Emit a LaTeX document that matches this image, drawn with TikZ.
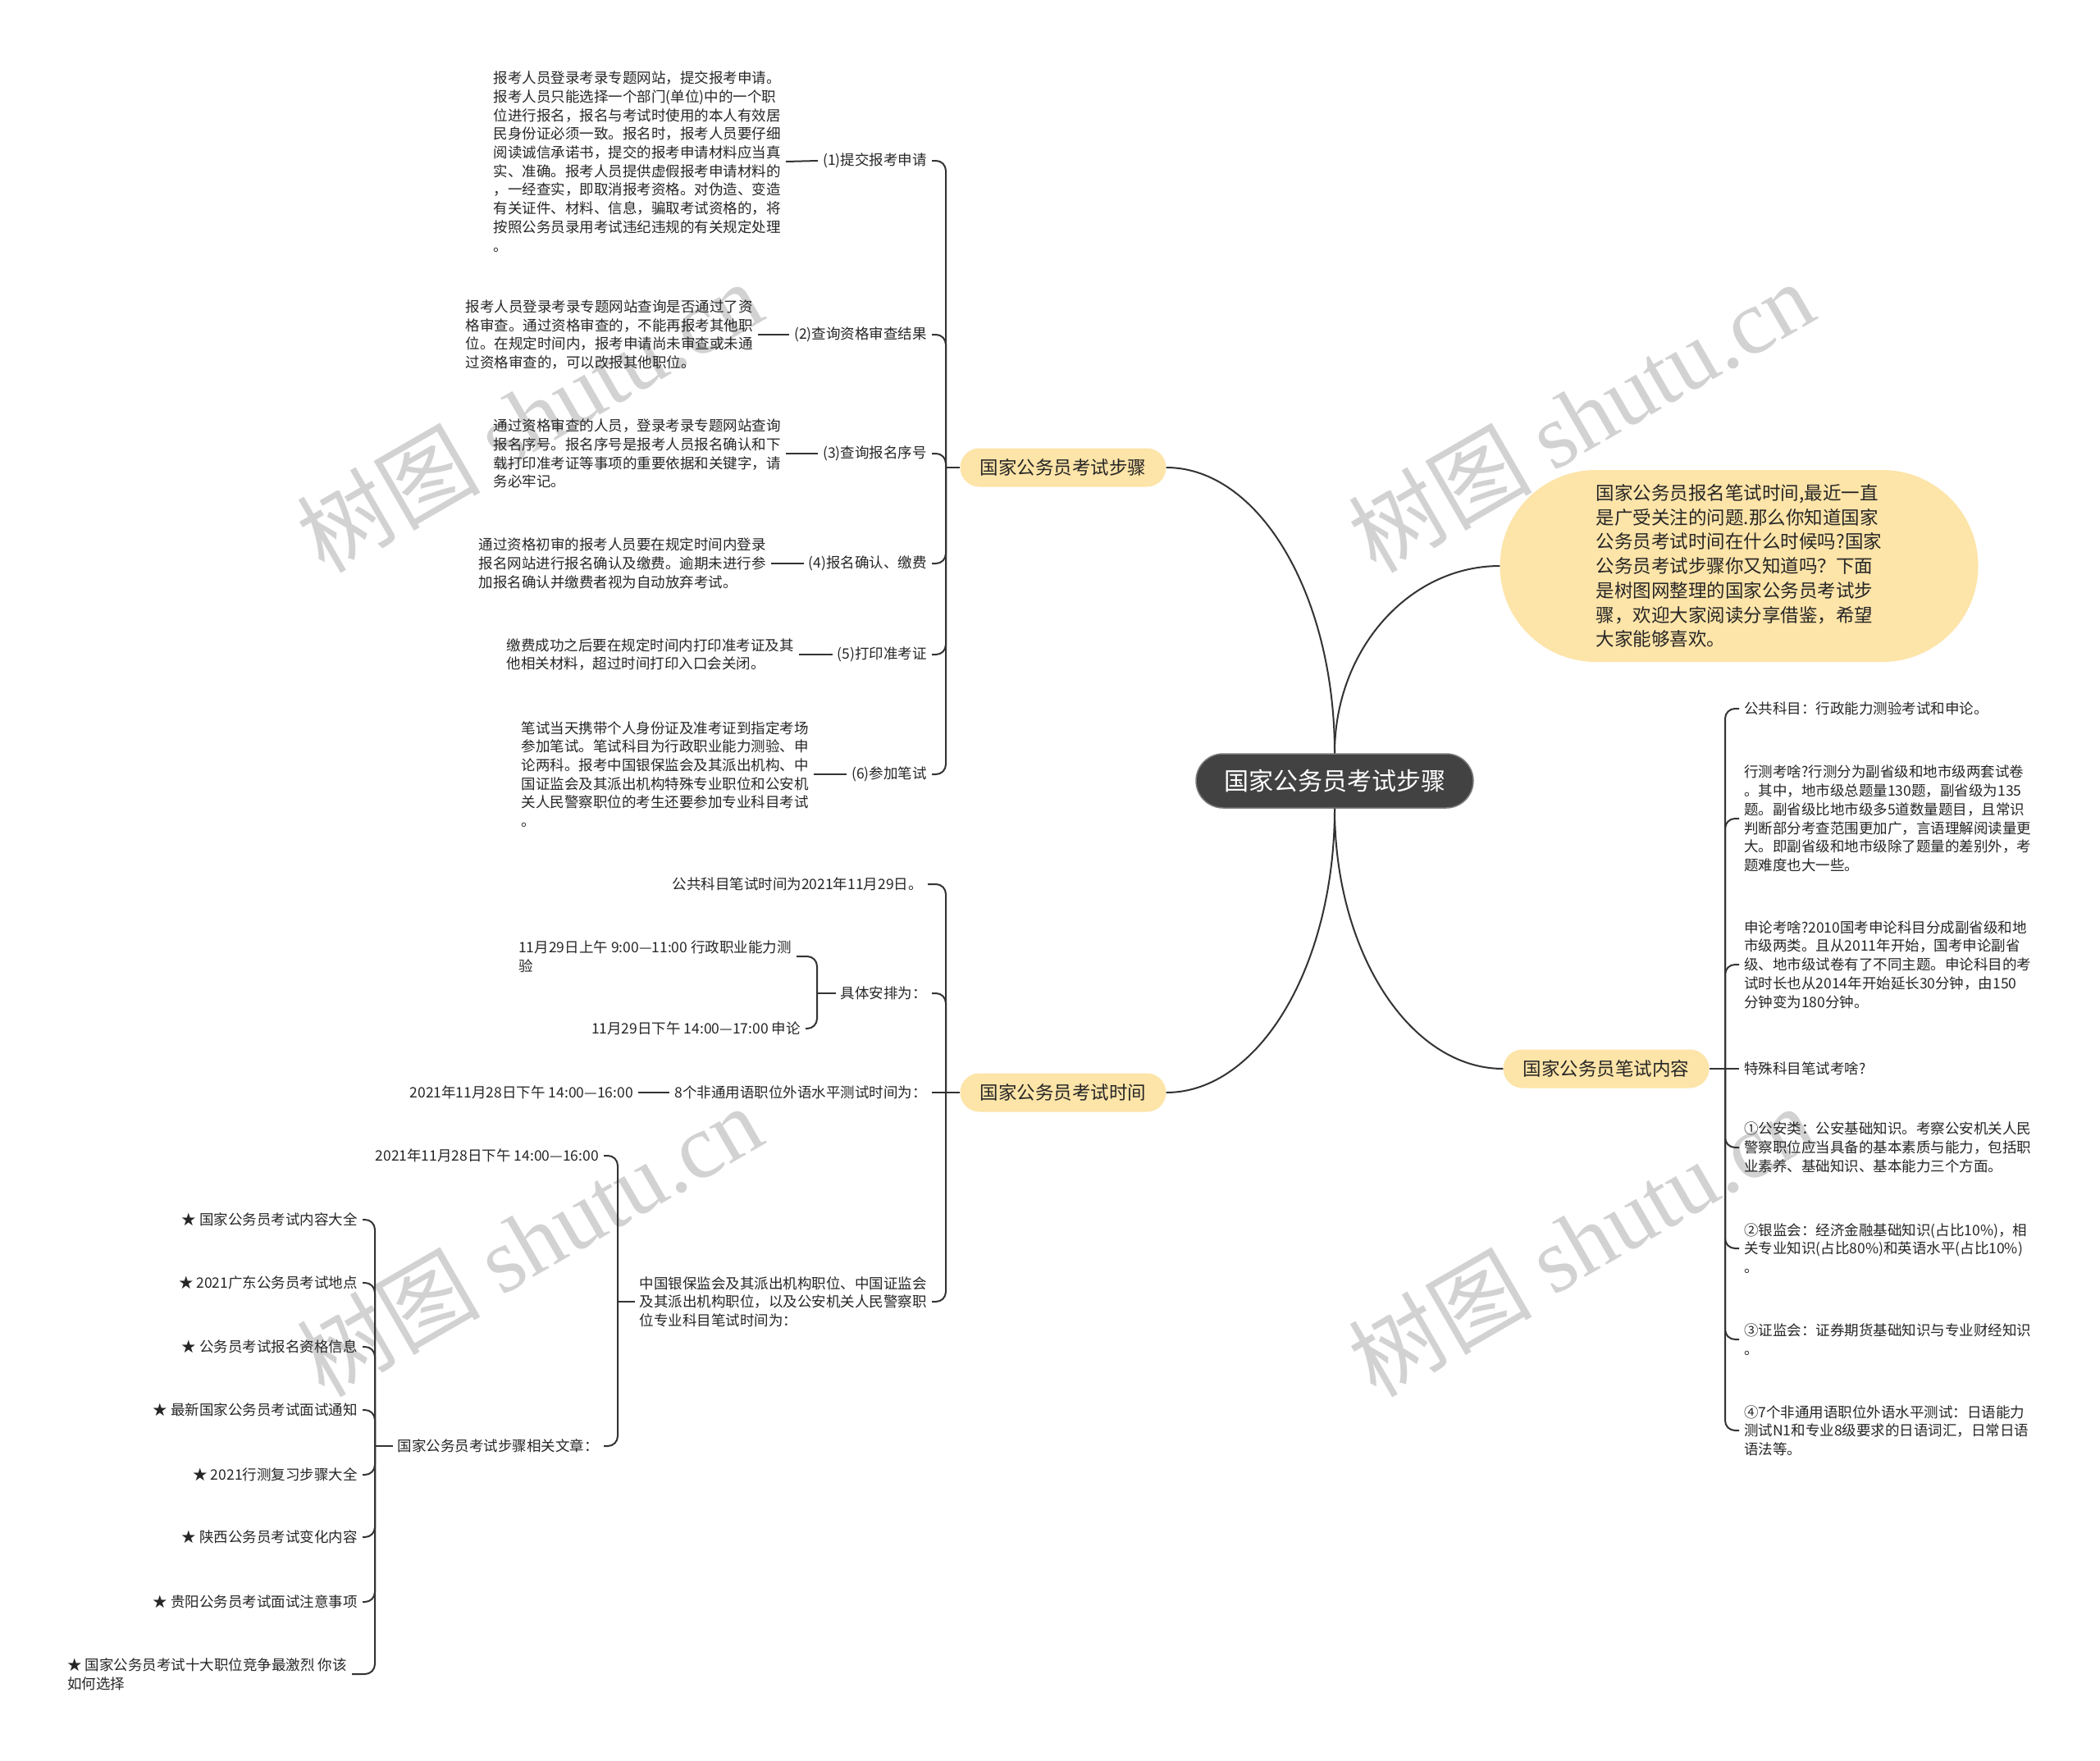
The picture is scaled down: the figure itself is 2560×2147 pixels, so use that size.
\documentclass[tikz,border=0pt]{standalone}
\usepackage{fontspec}
\setmainfont{Noto Sans CJK SC}
\newfontfamily\wmserif{Liberation Serif}
\definecolor{topicfill}{RGB}{253,228,168}
\definecolor{rootfill}{RGB}{66,66,66}
\definecolor{linkgray}{RGB}{51,51,51}
\definecolor{inkgray}{RGB}{38,38,38}
\definecolor{markgray}{RGB}{210,210,210}
\tikzset{
  link/.style={draw=linkgray, line width=2pt},
  brace/.style={link, rounded corners=12pt},
  note/.style={font=\fontsize{17.5}{22.7}\selectfont, text=inkgray, align=left, inner sep=6pt},
  topic/.style={fill=topicfill, rounded corners=23.5pt, minimum width=251pt, minimum height=47pt,
    font=\fontsize{22.5}{28}\selectfont, text=inkgray},
  rootbox/.style={fill=rootfill, draw=rootfill!70!white, line width=1.5pt, rounded corners=33pt,
    minimum width=338pt, minimum height=66pt, font=\fontsize{30}{36}\selectfont, text=white},
  intro/.style={fill=topicfill, rounded corners=117pt, minimum width=583pt, minimum height=234pt,
    font=\fontsize{22.5}{29.7}\selectfont, text=inkgray, align=left},
  wmark/.style={text=markgray, font=\fontsize{112}{116}\selectfont, rotate=30}
}
\begin{document}
\begin{tikzpicture}[x=1pt,y=1pt]
  %canvas
  \useasboundingbox (0,0) rectangle (2560,-2147);
  \fill[white] (0,0) rectangle (2560,-2147);
  %watermarks
  \node[wmark] (wm1) at (645,-507) {树图 {\wmserif shutu.cn}};
  \node[wmark] (wm2) at (1927,-507) {树图 {\wmserif shutu.cn}};
  \node[wmark] (wm3) at (645,-1512) {树图 {\wmserif shutu.cn}};
  \node[wmark] (wm4) at (1927,-1512) {树图 {\wmserif shutu.cn}};
  %root and main topics
  \node[rootbox] (root) at (1627,-952) {国家公务员考试步骤};
  \node[intro] (intro) at (2120,-690) {国家公务员报名笔试时间,最近一直\\是广受关注的问题.那么你知道国家\\公务员考试时间在什么时候吗?国家\\公务员考试步骤你又知道吗？下面\\是树图网整理的国家公务员考试步\\骤，欢迎大家阅读分享借鉴，希望\\大家能够喜欢。};
  \node[topic] (steps) at (1296,-570) {国家公务员考试步骤};
  \node[topic] (times) at (1296,-1332) {国家公务员考试时间};
  \node[topic] (content) at (1958,-1303) {国家公务员笔试内容};
  \draw[link] (root.north) .. controls +(0,126) and +(-111,0) .. (intro.west);
  \draw[link] (root.north) .. controls +(0,193) and +(113,0) .. (steps.east);
  \draw[link] (root.south) .. controls +(0,-192) and +(113,0) .. (times.east);
  \draw[link] (root.south) .. controls +(0,-176) and +(-113,0) .. (content.west);
  %steps branch
  \coordinate (jsteps) at (1153,-570);
  \node[note, anchor=east] (st1) at (1136,-196) {(1)提交报考申请};
  \node[note, anchor=east] (st2) at (1136,-408) {(2)查询资格审查结果};
  \node[note, anchor=east] (st3) at (1136,-553) {(3)查询报名序号};
  \node[note, anchor=east] (st4) at (1136,-687) {(4)报名确认、缴费};
  \node[note, anchor=east] (st5) at (1136,-798) {(5)打印准考证};
  \node[note, anchor=east] (st6) at (1136,-944) {(6)参加笔试};
  \node[note, anchor=east] (sd1) at (958,-197) {报考人员登录考录专题网站，提交报考申请。\\报考人员只能选择一个部门(单位)中的一个职\\位进行报名，报名与考试时使用的本人有效居\\民身份证必须一致。报名时，报考人员要仔细\\阅读诚信承诺书，提交的报考申请材料应当真\\实、准确。报考人员提供虚假报考申请材料的\\，一经查实，即取消报考资格。对伪造、变造\\有关证件、材料、信息，骗取考试资格的，将\\按照公务员录用考试违纪违规的有关规定处理\\。};
  \node[note, anchor=east] (sd2) at (924,-408) {报考人员登录考录专题网站查询是否通过了资\\格审查。通过资格审查的，不能再报考其他职\\位。在规定时间内，报考申请尚未审查或未通\\过资格审查的，可以改报其他职位。};
  \node[note, anchor=east] (sd3) at (958,-553) {通过资格审查的人员，登录考录专题网站查询\\报名序号。报名序号是报考人员报名确认和下\\载打印准考证等事项的重要依据和关键字，请\\务必牢记。};
  \node[note, anchor=east] (sd4) at (940,-687) {通过资格初审的报考人员要在规定时间内登录\\报名网站进行报名确认及缴费。逾期未进行参\\加报名确认并缴费者视为自动放弃考试。};
  \node[note, anchor=east] (sd5) at (974,-798) {缴费成功之后要在规定时间内打印准考证及其\\他相关材料，超过时间打印入口会关闭。};
  \node[note, anchor=east] (sd6) at (992,-944) {笔试当天携带个人身份证及准考证到指定考场\\参加笔试。笔试科目为行政职业能力测验、申\\论两科。报考中国银保监会及其派出机构、中\\国证监会及其派出机构特殊专业职位和公安机\\关人民警察职位的考生还要参加专业科目考试\\。};
  \draw[link] (steps.west) -- (jsteps);
  \draw[brace] (jsteps) |- (st1.east);
  \draw[brace] (jsteps) |- (st2.east);
  \draw[brace] (jsteps) |- (st3.east);
  \draw[brace] (jsteps) |- (st4.east);
  \draw[brace] (jsteps) |- (st5.east);
  \draw[brace] (jsteps) |- (st6.east);
  \draw[link] (sd1.east) -- (st1.west);
  \draw[link] (sd2.east) -- (st2.west);
  \draw[link] (sd3.east) -- (st3.west);
  \draw[link] (sd4.east) -- (st4.west);
  \draw[link] (sd5.east) -- (st5.west);
  \draw[link] (sd6.east) -- (st6.west);
  %times branch
  \coordinate (jtimes) at (1153,-1332);
  \node[note, anchor=east] (tm1) at (1131,-1078) {公共科目笔试时间为2021年11月29日。};
  \node[note, anchor=east] (tm2) at (1136,-1211) {具体安排为：};
  \node[note, anchor=east] (tm3) at (1136,-1332) {8个非通用语职位外语水平测试时间为：};
  \node[note, anchor=east] (tm4) at (1136,-1587) {中国银保监会及其派出机构职位、中国证监会\\及其派出机构职位，以及公安机关人民警察职\\位专业科目笔试时间为：};
  \draw[link] (times.west) -- (jtimes);
  \draw[brace] (jtimes) |- (tm1.east);
  \draw[brace] (jtimes) |- (tm2.east);
  \draw[link] (jtimes) -- (tm3.east);
  \draw[brace] (jtimes) |- (tm4.east);
  %exam day plan
  \coordinate (jplan) at (996,-1211);
  \node[note, anchor=east] (plan1) at (971,-1166) {11月29日上午 9:00—11:00 行政职业能力测\\验};
  \node[note, anchor=east] (plan2) at (982,-1254) {11月29日下午 14:00—17:00 申论};
  \draw[link] (tm2.west) -- (jplan);
  \draw[brace] (jplan) |- (plan1.east);
  \draw[brace] (jplan) |- (plan2.east);
  %language test
  \node[note, anchor=east] (lang) at (778,-1332) {2021年11月28日下午 14:00—16:00};
  \draw[link] (lang.east) -- (tm3.west);
  %special subjects
  \coordinate (jspec) at (753,-1587);
  \node[note, anchor=east] (spec1) at (736,-1409) {2021年11月28日下午 14:00—16:00};
  \node[note, anchor=east] (spec2) at (736,-1763) {国家公务员考试步骤相关文章：};
  \draw[link] (tm4.west) -- (jspec);
  \draw[brace] (jspec) |- (spec1.east);
  \draw[brace] (jspec) |- (spec2.east);
  %related articles
  \coordinate (jart) at (457,-1763);
  \node[note, anchor=east] (art1) at (442,-1487) {★ 国家公务员考试内容大全};
  \node[note, anchor=east] (art2) at (442,-1564) {★ 2021广东公务员考试地点};
  \node[note, anchor=east] (art3) at (442,-1642) {★ 公务员考试报名资格信息};
  \node[note, anchor=east] (art4) at (442,-1719) {★ 最新国家公务员考试面试通知};
  \node[note, anchor=east] (art5) at (442,-1798) {★ 2021行测复习步骤大全};
  \node[note, anchor=east] (art6) at (442,-1874) {★ 陕西公务员考试变化内容};
  \node[note, anchor=east] (art7) at (442,-1953) {★ 贵阳公务员考试面试注意事项};
  \node[note, anchor=east] (art8) at (429,-2041) {★ 国家公务员考试十大职位竞争最激烈 你该\\如何选择};
  \draw[link] (spec2.west) -- (jart);
  \draw[brace] (jart) |- (art1.east);
  \draw[brace] (jart) |- (art2.east);
  \draw[brace] (jart) |- (art3.east);
  \draw[brace] (jart) |- (art4.east);
  \draw[brace] (jart) |- (art5.east);
  \draw[brace] (jart) |- (art6.east);
  \draw[brace] (jart) |- (art7.east);
  \draw[brace] (jart) |- (art8.east);
  %content branch
  \coordinate (jcontent) at (2103,-1303);
  \node[note, anchor=west] (ct1) at (2120,-864) {公共科目：行政能力测验考试和申论。};
  \node[note, anchor=west] (ct2) at (2120,-998) {行测考啥?行测分为副省级和地市级两套试卷\\。其中，地市级总题量130题，副省级为135\\题。副省级比地市级多5道数量题目，且常识\\判断部分考查范围更加广，言语理解阅读量更\\大。即副省级和地市级除了题量的差别外，考\\题难度也大一些。};
  \node[note, anchor=west] (ct3) at (2120,-1176) {申论考啥?2010国考申论科目分成副省级和地\\市级两类。且从2011年开始，国考申论副省\\级、地市级试卷有了不同主题。申论科目的考\\试时长也从2014年开始延长30分钟，由150\\分钟变为180分钟。};
  \node[note, anchor=west] (ct4) at (2120,-1303) {特殊科目笔试考啥?};
  \node[note, anchor=west] (ct5) at (2120,-1399) {①公安类：公安基础知识。考察公安机关人民\\警察职位应当具备的基本素质与能力，包括职\\业素养、基础知识、基本能力三个方面。};
  \node[note, anchor=west] (ct6) at (2120,-1522) {②银监会：经济金融基础知识(占比10\%)，相\\关专业知识(占比80\%)和英语水平(占比10\%)\\。};
  \node[note, anchor=west] (ct7) at (2120,-1633) {③证监会：证券期货基础知识与专业财经知识\\。};
  \node[note, anchor=west] (ct8) at (2120,-1744) {④7个非通用语职位外语水平测试：日语能力\\测试N1和专业8级要求的日语词汇，日常日语\\语法等。};
  \draw[link] (content.east) -- (jcontent);
  \draw[brace] (jcontent) |- (ct1.west);
  \draw[brace] (jcontent) |- (ct2.west);
  \draw[brace] (jcontent) |- (ct3.west);
  \draw[link] (jcontent) -- (ct4.west);
  \draw[brace] (jcontent) |- (ct5.west);
  \draw[brace] (jcontent) |- (ct6.west);
  \draw[brace] (jcontent) |- (ct7.west);
  \draw[brace] (jcontent) |- (ct8.west);
\end{tikzpicture}
\end{document}
